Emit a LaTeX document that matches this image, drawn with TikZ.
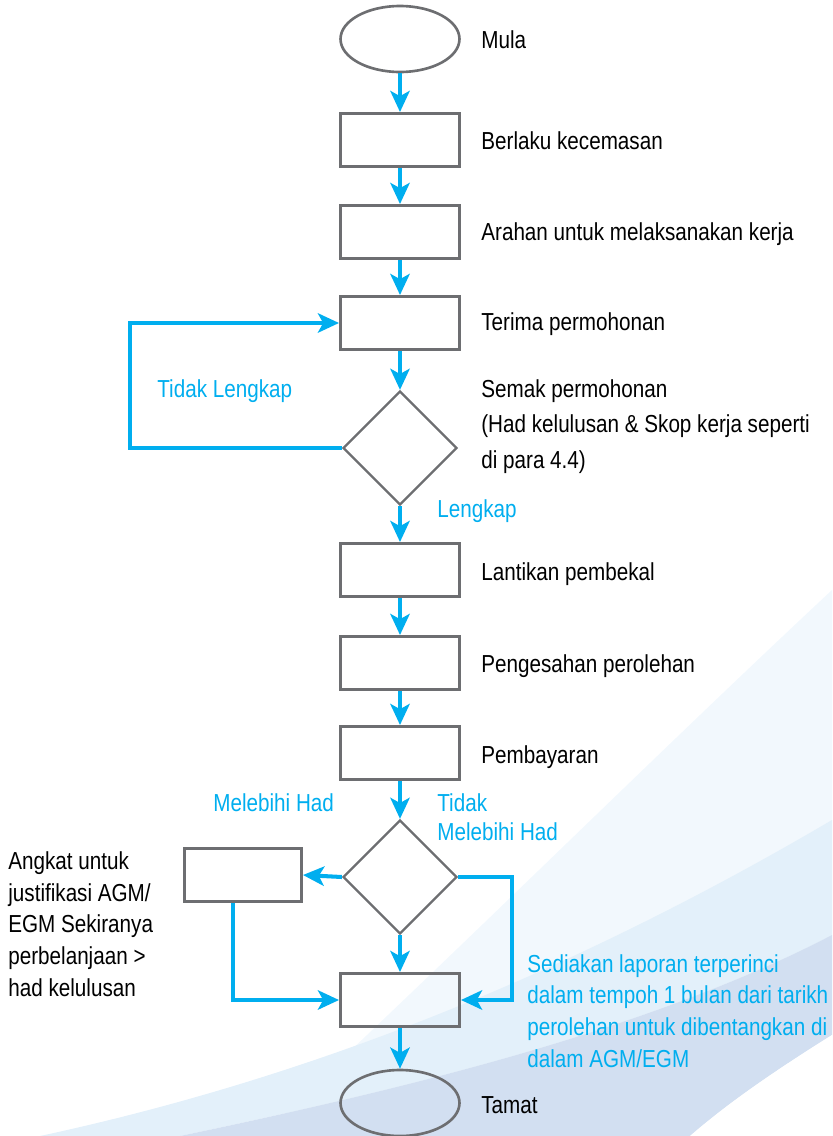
\documentclass[tikz,border=0pt]{standalone}
\usepackage{fontspec}
\setmainfont{Liberation Sans}[FakeStretch=0.84]
\usetikzlibrary{shapes.geometric,arrows.meta}
\definecolor{flowblue}{HTML}{00AEEF}
\definecolor{boxgray}{HTML}{6D6E71}
\definecolor{swooshA}{HTML}{F2F8FD}
\definecolor{swooshB}{HTML}{E3F0FA}
\definecolor{swooshC}{HTML}{D2DFF1}

\begin{document}
\begin{tikzpicture}[x=0.02cm, y=-0.02cm,
    every node/.style={font=\fontsize{14}{18}\selectfont},
    stepbox/.style={rectangle, draw=boxgray, line width=1.7pt, minimum width=2.38cm, minimum height=1.06cm, inner sep=0pt},
    ends/.style={ellipse, draw=boxgray, line width=1.5pt, minimum width=2.38cm, minimum height=1.32cm, inner sep=0pt},
    decide/.style={diamond, aspect=1, draw=boxgray, line width=1.3pt, minimum width=2.28cm, minimum height=2.28cm, inner sep=0pt},
    flow/.style={draw=flowblue, line width=2.3pt, -{Stealth[length=12pt, width=11pt, inset=3pt]}},
    lbl/.style={anchor=base west, inner sep=0pt},
    note/.style={lbl, text=flowblue}]

    \useasboundingbox (0,0) rectangle (832,1136);

    % Background swoosh
    \fill[swooshA] (260,1136) .. controls (480,930) and (650,760) .. (832,590) -- (832,1136) -- cycle;
    \fill[swooshB] (40,1136) .. controls (300,1080) and (560,980) .. (832,820) -- (832,935) .. controls (650,1030) and (400,1090) .. (180,1136) -- cycle;
    \fill[swooshC] (180,1136) .. controls (400,1090) and (650,1030) .. (832,935) -- (832,1035) .. controls (760,1080) and (720,1110) .. (690,1136) -- cycle;
    \fill[white] (690,1136) .. controls (720,1110) and (760,1080) .. (832,1035) -- (832,1136) -- cycle;

    % Main column
    \node[ends] (start) at (400,39) {};
    \foreach \y/\name in {140/B1, 232/B2, 323/B3, 570/B4, 663/B5, 753/B6, 1000/B7} {
        \node[stepbox] (\name) at (400,\y) {};
    }
    \node[decide] (D1) at (400,448) {};
    \node[decide] (D2) at (400,877) {};
    \node[stepbox, minimum width=2.34cm] (angkat) at (243,875) {};
    \node[ends] (end) at (400,1103) {};

    % Step texts (multi-line ones sit on their last line)
    \foreach \y/\txt in {48/Mula, 149/Berlaku kecemasan, 240/Arahan untuk melaksanakan kerja, 330/Terima permohonan, 580/Lantikan pembekal, 672/Pengesahan perolehan, 763/Pembayaran, 1113/Tamat} {
        \node[lbl] (txt\y) at (481,\y) {\txt};
    }
    \node[lbl, align=left, font=\fontsize{14}{20}\selectfont] (semak) at (481,468) {Semak permohonan\\(Had kelulusan \& Skop kerja seperti\\di para 4.4)};
    \node[lbl, align=left] (angkatTxt) at (8,996) {Angkat untuk\\justifikasi AGM/\\EGM Sekiranya\\perbelanjaan >\\had kelulusan};

    % Branch labels
    \node[note] (tidakL) at (157,397) {Tidak Lengkap};
    \node[note] (lengkap) at (437,517) {Lengkap};
    \node[note] (lebih) at (213,811) {Melebihi Had};
    \node[note, align=left, font=\fontsize{14}{16.4}\selectfont] (tidakLebih) at (437,840) {Tidak\\Melebihi Had};
    \node[note, align=left] (sediakan) at (527,1067) {Sediakan laporan terperinci\\dalam tempoh 1 bulan dari tarikh\\perolehan untuk dibentangkan di\\dalam AGM/EGM};

    % Arrows down the column
    \foreach \a/\b in {start/B1, B1/B2, B2/B3, B3/D1, D1/B4, B4/B5, B5/B6, B6/D2, D2/B7, B7/end} {
        \draw[flow] (\a) -- (\b);
    }

    % Loops
    \coordinate (loopL) at (130,448);
    \coordinate (loopA) at (233,1000);
    \coordinate (loopR) at (512,1000);
    \draw[flow] (D1.west) -- (loopL) |- (B3.west);
    \draw[flow] (D2.west) -- (angkat.east);
    \draw[flow] (loopA |- angkat.south) -- (loopA) -- (B7.west);
    \draw[flow] (D2.east) -| (loopR) -- (B7.east);

\end{tikzpicture}
\end{document}
